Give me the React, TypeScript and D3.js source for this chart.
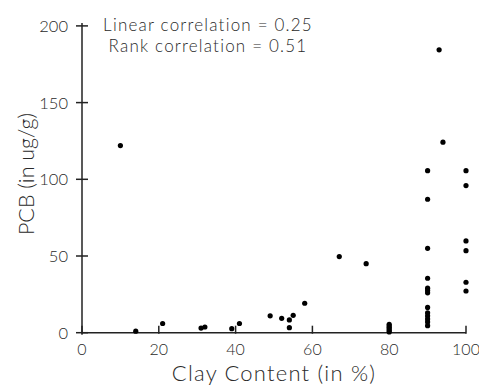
import React, { useRef, useEffect } from 'react';
import { select, scaleLinear } from 'd3';

// clay content (%) and PCB (ug/g) for each sample
const clay = [
  10, 14, 21, 31, 32, 39, 41, 49, 52, 54, 54, 55, 58, 67, 74,
  80, 80, 80, 80, 80, 80,
  90, 90, 90, 90, 90, 90, 90, 90, 90, 90, 90, 90, 90,
  93, 94,
  100, 100, 100, 100, 100, 100
];
const pcb = [
  122, 1, 6, 3, 3.7, 2.6, 6, 11, 9.4, 8.3, 3.3, 11.3, 19.2, 49.6, 45,
  0.5, 1.5, 2.5, 3.5, 4.5, 5.5,
  105.6, 87, 55, 35.5, 29, 27.5, 26, 16.5, 13, 11, 9, 7, 4.6,
  184.4, 124.2,
  105.6, 95.9, 59.8, 53.5, 32.9, 27.2
];
const xTicks = [0, 20, 40, 60, 80, 100];
const yTicks = [0, 50, 100, 150, 200];
const notes = ['Linear correlation = 0.25', 'Rank correlation = 0.51'];

const W = 479;
const H = 387;
const FONT = 'Lato, "Open Sans", sans-serif';
const INK = '#2a2a2a';

export default function App() {
  const svgRef = useRef(null);

  useEffect(() => {
    const svg = select(svgRef.current);
    svg.selectAll('*').remove();

    const x = scaleLinear().domain([0, 100]).range([82, 466]);
    const y = scaleLinear().domain([0, 200]).range([332.7, 25.9]);

    const label = sel => sel
      .attr('font-family', FONT)
      .attr('font-weight', 300)
      .attr('fill', INK);

    /* Axes */
    svg.append('line')
      .attr('x1', x(0)).attr('x2', x(0))
      .attr('y1', y(200) - 3).attr('y2', y(0) + 2)
      .attr('stroke', '#222').attr('stroke-width', 1.5);
    svg.append('line')
      .attr('x1', x(0)).attr('x2', x(100))
      .attr('y1', y(0)).attr('y2', y(0))
      .attr('stroke', '#222').attr('stroke-width', 1.5);

    /* Y ticks */
    svg.selectAll('.ytick')
      .data(yTicks)
      .join('line')
      .attr('class', 'ytick')
      .attr('x1', x(0) - 6).attr('x2', x(0) + 6)
      .attr('y1', d => y(d)).attr('y2', d => y(d))
      .attr('stroke', '#222').attr('stroke-width', 1.5);
    svg.selectAll('.ylabel')
      .data(yTicks)
      .join('text')
      .attr('class', 'ylabel')
      .text(d => d)
      .attr('x', x(0) - 14)
      .attr('y', d => y(d) + 6)
      .attr('text-anchor', 'end')
      .attr('font-size', 16.5)
      .call(label);

    /* X ticks */
    svg.selectAll('.xtick')
      .data(xTicks)
      .join('line')
      .attr('class', 'xtick')
      .attr('x1', d => x(d)).attr('x2', d => x(d))
      .attr('y1', y(0) - 7).attr('y2', y(0) + 1)
      .attr('stroke', '#222').attr('stroke-width', 1.5);
    svg.selectAll('.xlabel')
      .data(xTicks)
      .join('text')
      .attr('class', 'xlabel')
      .text(d => d)
      .attr('x', d => x(d))
      .attr('y', 355)
      .attr('text-anchor', 'middle')
      .attr('font-size', 16)
      .call(label);

    /* Titles */
    svg.append('text')
      .text('Clay Content (in %)')
      .attr('x', 274).attr('y', 381)
      .attr('text-anchor', 'middle')
      .attr('font-size', 22)
      .attr('letter-spacing', 1.2)
      .call(label);
    svg.append('text')
      .text('PCB (in ug/g)')
      .attr('transform', 'translate(34,174) rotate(-90)')
      .attr('text-anchor', 'middle')
      .attr('font-size', 21.5)
      .call(label);

    /* Correlation notes */
    svg.selectAll('.note')
      .data(notes)
      .join('text')
      .attr('class', 'note')
      .text(d => d)
      .attr('x', 208)
      .attr('y', (d, i) => 31 + i * 21)
      .attr('text-anchor', 'middle')
      .attr('font-size', 17)
      .attr('letter-spacing', 1.2)
      .call(label);

    /* Points */
    svg.selectAll('.dot')
      .data(clay.map((c, i) => [c, pcb[i]]))
      .join('circle')
      .attr('class', 'dot')
      .attr('r', 2.6)
      .attr('fill', 'black')
      .attr('cx', d => x(d[0]))
      .attr('cy', d => y(d[1]));
  }, []);

  return (
    <svg
      ref={svgRef}
      width={W}
      height={H}
      style={{ position: 'absolute', left: 0, top: 0, background: '#fff' }}
    />
  );
}
